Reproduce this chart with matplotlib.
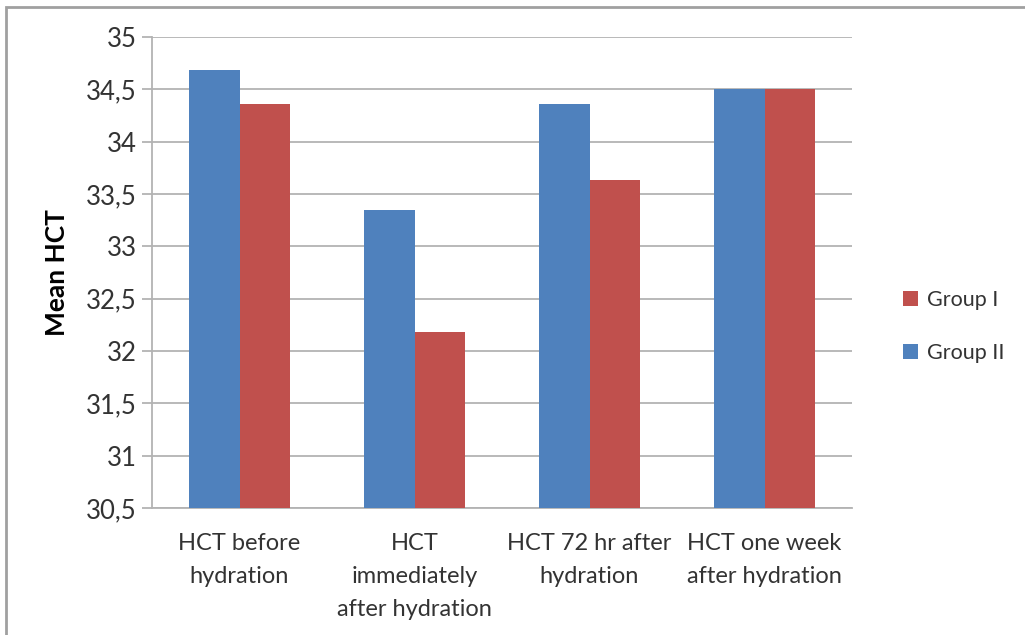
import matplotlib
matplotlib.use("Agg")
import matplotlib.pyplot as plt
from matplotlib.patches import Rectangle
from matplotlib.ticker import FuncFormatter
import numpy as np

plt.rcParams['font.family'] = ['Lato', 'DejaVu Sans']

categories = ["HCT before\nhydration",
              "HCT\nimmediately\nafter hydration",
              "HCT 72 hr after\nhydration",
              "HCT one week\nafter hydration"]
group1 = [34.36, 32.18, 33.63, 34.5]
group2 = [34.68, 33.35, 34.36, 34.5]

blue = '#4F81BD'
red = '#C0504D'
grid_col = '#b3b3b3'

fig = plt.figure(figsize=(10.25, 6.35), dpi=100)

# outer chart frame
fig.patches.append(Rectangle((6 / 1025, -0.1), 1.2, 1.1 - 7 / 635,
                             transform=fig.transFigure, fill=False,
                             edgecolor='#a0a0a0', lw=2))

ax = fig.add_axes([152 / 1025, 127 / 635, 700 / 1025, 471 / 635])

x = np.arange(len(categories))
w = 0.286
b2 = ax.bar(x - w / 2, np.array(group2) - 30.5, w, bottom=30.5, color=blue,
            label='Group II', zorder=3)
b1 = ax.bar(x + w / 2, np.array(group1) - 30.5, w, bottom=30.5, color=red,
            label='Group I', zorder=3)

ax.set_xlim(-0.5, 3.5)
ax.set_ylim(30.5, 35)
ax.set_yticks(np.arange(30.5, 35.01, 0.5))
ax.yaxis.set_major_formatter(FuncFormatter(
    lambda v, p: ('%g' % v).replace('.', ',')))
ax.grid(axis='y', color=grid_col, lw=1.3, zorder=0)

for s in ['top', 'right']:
    ax.spines[s].set_visible(False)
ax.spines['left'].set_color(grid_col)
ax.spines['left'].set_linewidth(1.3)
ax.spines['bottom'].set_color(grid_col)
ax.spines['bottom'].set_linewidth(1.3)

ax.set_xticks(x)
ax.set_xticklabels(categories, fontsize=17, color='#333333',
                   linespacing=1.72)
ax.tick_params(axis='x', length=0, pad=18)
ax.tick_params(axis='y', length=7, width=1.3, color=grid_col,
               labelsize=18.5, labelcolor='#333333', pad=4)

ax.set_ylabel('Mean HCT', fontsize=19, fontweight='bold', labelpad=12)

ax.legend([b1, b2], ['Group I', 'Group II'], loc='center left',
          bbox_to_anchor=(1.045, 0.385), frameon=False, fontsize=15.5,
          handlelength=0.7, handleheight=0.7, handletextpad=0.4,
          labelspacing=1.55, labelcolor='#333333')

fig.savefig('out.png', dpi=100)
